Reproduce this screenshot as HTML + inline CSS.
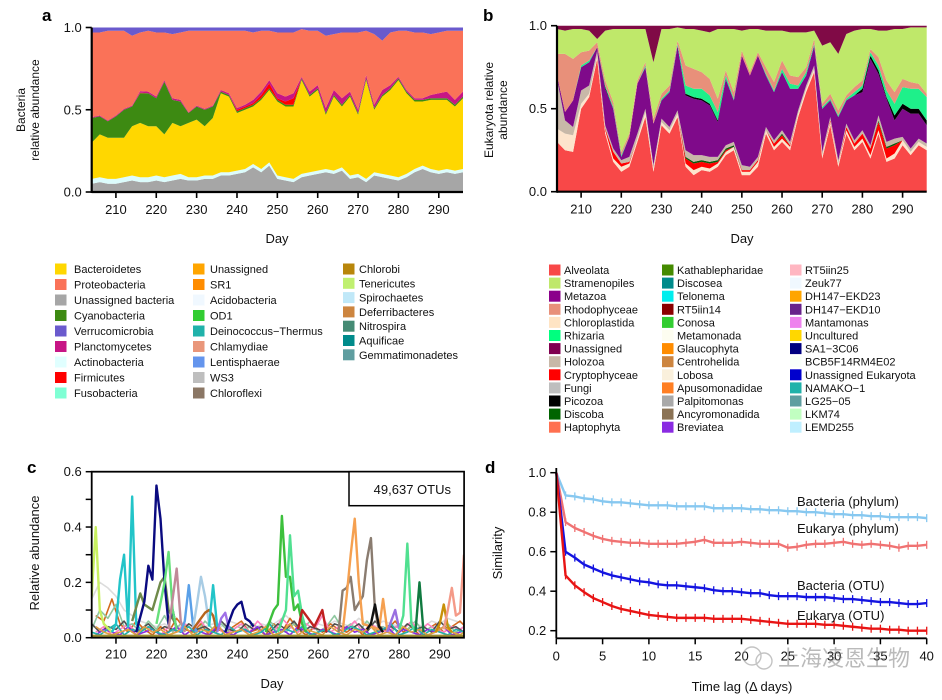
<!DOCTYPE html>
<html><head><meta charset="utf-8"><style>
html,body{margin:0;padding:0;background:#fff;width:942px;height:700px;overflow:hidden}
svg{display:block;font-family:"Liberation Sans",Arial,sans-serif}
</style></head><body>
<svg id="fig" width="942" height="700" viewBox="0 0 942 700">
<rect x="0" y="0" width="942" height="700" fill="#fff"/>
<text x="42" y="21" font-size="17" font-weight="bold">a</text>
<text x="483" y="21" font-size="17" font-weight="bold">b</text>
<text x="27" y="473" font-size="17" font-weight="bold">c</text>
<text x="485" y="473" font-size="17" font-weight="bold">d</text>
<g id="pa"></g>
<g id="pb"></g>
<g id="pc"></g>
<g id="pd"></g>
<g id="lega"></g>
<g id="legb"></g>
<g opacity="0.5">
<circle cx="752" cy="656" r="9" fill="none" stroke="#888" stroke-width="1.4"/>
<circle cx="764" cy="661" r="8" fill="none" stroke="#888" stroke-width="1.4"/>
<text x="778" y="666" font-size="22" fill="#777" font-family="'Liberation Sans','Noto Sans CJK SC',sans-serif">上海凌恩生物</text>
</g>
</svg>
<script>
const NS='http://www.w3.org/2000/svg';
const days=[204,206,208,210,212,214,216,218,220,222,224,226,228,230,232,234,236,238,240,242,244,246,248,250,252,254,256,258,260,262,264,266,268,270,272,274,276,278,280,282,284,286,288,290,292,294,296];
// Panel a data (layer thicknesses)
const aUnassigned=[.05,.06,.05,.05,.06,.07,.06,.06,.07,.06,.07,.08,.07,.07,.08,.08,.10,.10,.11,.12,.15,.12,.16,.08,.07,.06,.09,.10,.11,.12,.11,.13,.08,.09,.06,.10,.09,.08,.07,.09,.12,.14,.12,.11,.12,.11,.12];
const aActino=[.03,.03,.03,.03,.03,.03,.03,.03,.03,.03,.03,.03,.02,.02,.02,.02,.02,.02,.02,.02,.02,.02,.02,.02,.02,.02,.02,.02,.02,.02,.02,.02,.02,.02,.02,.02,.02,.02,.02,.02,.02,.02,.02,.02,.02,.02,.02];
const aBacteroidetes=[.22,.26,.25,.25,.24,.30,.33,.31,.30,.26,.32,.29,.33,.35,.30,.35,.48,.46,.35,.36,.35,.42,.44,.45,.43,.44,.57,.46,.49,.33,.45,.37,.48,.36,.60,.38,.47,.52,.59,.49,.41,.39,.42,.43,.42,.39,.43];
const aCyano=[.15,.11,.10,.13,.17,.12,.18,.20,.17,.32,.14,.15,.06,.08,.10,.07,.01,.01,.01,.01,.01,.01,.01,.01,.01,.01,.01,.01,.01,.01,.01,.01,.01,.01,.01,.01,.01,.01,.01,.01,.01,.01,.01,.01,.01,.01,.01];
const aFirmicutes=[0,0,0,0,0,0,.003,0,0,0,0,0,0,0,0,0,0,0,.01,.01,.01,.02,.03,.01,.02,.04,0,0,0,0,0,0,0,0,0,0,0,0,0,0,0,0,0,0,0,0,0];
const aPlancto=[.005,.005,.005,.005,.005,.005,.01,.01,.01,.01,.01,.01,.005,.005,.005,.005,.01,.01,.01,.01,.02,.02,.02,.03,.03,.03,.01,.02,.02,.03,.03,.04,.02,.02,.02,.02,.03,.02,.01,.01,.01,.01,.02,.03,.04,.03,.03];
const aVerruco=[.03,.03,.02,.02,.02,.05,.03,.02,.03,.03,.04,.03,.02,.02,.02,.02,.02,.02,.02,.02,.03,.02,.02,.03,.03,.03,.01,.02,.02,.05,.04,.03,.03,.03,.02,.04,.08,.03,.02,.02,.03,.03,.04,.03,.02,.02,.02];
// Panel b data
const bAlveolata=[.30,.25,.24,.50,.57,.80,.35,.18,.12,.15,.30,.45,.12,.40,.35,.45,.15,.10,.13,.12,.15,.22,.25,.10,.10,.15,.35,.25,.30,.25,.45,.60,.72,.20,.40,.15,.35,.25,.30,.20,.35,.18,.20,.28,.22,.28,.25];
const bChloro=[.08,.10,.10,.03,.02,.02,.02,.02,.03,.02,.02,.03,.02,.02,.02,.02,.02,.03,.02,.02,.02,.02,.02,.02,.02,.03,.02,.02,.02,.02,.02,.02,.02,.02,.02,.02,.02,.02,.02,.02,.02,.02,.03,.03,.02,.02,.02];
const bCrypto=[0,0,0,0,0,0,.01,.04,.02,.01,0,0,0,0,0,0,.03,.04,.03,.03,.01,.01,0,.01,.01,.01,0,.02,.02,.01,0,0,0,0,.01,0,.02,.02,.03,.04,.05,.06,.05,0,0,0,0];
const bDiscoba=[0,0,0,0,0,0,0,0,0,0,0,0,0,0,0,0,.01,.01,.01,.01,.01,.01,.01,0,0,0,0,0,.01,0,0,0,0,0,0,0,0,0,0,0,.01,.01,.01,0,0,0,0];
const bHolozoa=[.30,.08,.05,.08,.05,.03,.02,.02,.02,.03,.03,.02,.02,.02,.02,.02,.04,.04,.03,.03,.02,.02,.02,.03,.02,.02,.02,.02,.02,.02,.02,.02,.02,.02,.02,.02,.02,.02,.02,.02,.03,.03,.03,.02,.02,.02,.02];
const bMetazoa=[.02,.05,.16,.14,.14,.02,.22,.24,.02,.12,.30,.25,.25,.11,.21,.39,.33,.34,.33,.31,.21,.40,.25,.66,.55,.61,.31,.29,.35,.32,.13,.06,.12,.26,.10,.26,.14,.27,.23,.52,.25,.26,.11,.17,.21,.15,.11];
const bPicozoa=[0,0,0,0,0,0,.01,0,0,0,0,0,0,0,0,0,.01,.01,.01,.01,.01,0,0,0,0,0,0,0,0,0,0,0,0,0,0,0,0,0,.02,.02,.02,.01,.03,.03,.03,.03,.03];
const bRhizaria=[0,0,0,.01,.01,0,.01,.01,.01,0,0,.01,0,.01,.01,.01,.05,.05,.06,.05,.05,.02,.01,0,0,0,.01,.01,.02,.03,.02,.02,.01,.01,.01,.01,.01,.02,.02,.02,.03,.04,.07,.10,.12,.12,.14];
const bRhodo=[.13,.35,.25,.08,.06,.03,.03,.03,.02,.02,.02,.02,.03,.03,.03,.02,.12,.12,.10,.10,.08,.03,.04,.03,.02,.02,.04,.05,.05,.05,.05,.03,.03,.02,.03,.03,.02,.03,.03,.02,.05,.06,.07,.05,.04,.03,.02];
const bUnassigned=[.02,.03,.02,.02,.03,.08,.03,.02,.02,.02,.02,.02,.22,.02,.02,.01,.02,.02,.03,.04,.02,.02,.02,.03,.02,.02,.03,.03,.03,.04,.04,.04,.03,.12,.10,.17,.05,.03,.02,.02,.03,.03,.02,.02,.01,.01,.01];
// Panel c data: prominent OTUs as [day, value] pairs
const cPeaks=[
 {name:'otu-lime',color:'#c8f060',pts:[[204,0.15],[205,0.40],[206,0.10],[207,0.05],[209,0.02]]},
 {name:'otu-cyan',color:'#22c4c8',pts:[[209,0.02],[210,0.05],[211,0.21],[212,0.30],[213,0.04],[214,0.51],[215,0.05],[216,0.03]]},
 {name:'otu-olive',color:'#6f8a4a',pts:[[214,0.06],[216,0.16],[217,0.12],[219,0.10],[221,0.20],[222,0.22],[223,0.10],[225,0.04]]},
 {name:'otu-navy',color:'#0a0a80',pts:[[215,0.02],[217,0.13],[218,0.26],[219,0.21],[220,0.55],[221,0.43],[222,0.20],[223,0.05],[224,0.10],[225,0.03]]},
 {name:'otu-lightgreen',color:'#66e07a',pts:[[220,0.05],[222,0.20],[223,0.31],[224,0.10],[225,0.03]]},
 {name:'otu-mauve',color:'#c08a98',pts:[[223,0.03],[225,0.25],[226,0.06],[227,0.02]]},
 {name:'otu-blue',color:'#5aa0e8',pts:[[226,0.02],[227,0.06],[228,0.19],[229,0.05],[230,0.02]]},
 {name:'otu-steel',color:'#a8cce4',pts:[[229,0.03],[230,0.12],[231,0.22],[232,0.15],[233,0.05]]},
 {name:'otu-brown',color:'#b5651d',pts:[[229,0.03],[231,0.07],[232,0.09],[233,0.10],[234,0.08],[235,0.02]]},
 {name:'otu-cyan2',color:'#22c4c8',pts:[[233,0.04],[234,0.19],[235,0.04]]},
 {name:'otu-purple',color:'#a070e8',pts:[[235,0.02],[236,0.07],[237,0.09],[238,0.03]]},
 {name:'otu-navy2',color:'#0a0a80',pts:[[237,0.02],[239,0.10],[240,0.12],[241,0.13],[242,0.07],[243,0.06],[244,0.04]]},
 {name:'otu-green',color:'#3cc03c',pts:[[247,0.02],[249,0.10],[250,0.12],[251,0.44],[252,0.22],[253,0.22],[254,0.10],[255,0.12],[256,0.05],[257,0.02]]},
 {name:'otu-mint',color:'#50e090',pts:[[250,0.02],[252,0.10],[253,0.37],[254,0.15],[255,0.17],[256,0.08],[257,0.03]]},
 {name:'otu-darkred',color:'#c02020',pts:[[255,0.03],[256,0.10],[257,0.08],[259,0.04],[261,0.10],[262,0.02]]},
 {name:'otu-taupe',color:'#8a7c70',pts:[[265,0.02],[266,0.17],[267,0.18],[268,0.22],[269,0.10],[271,0.15],[272,0.28],[273,0.36],[274,0.10],[275,0.03]]},
 {name:'otu-orange',color:'#f5a050',pts:[[266,0.02],[267,0.15],[268,0.30],[269,0.43],[270,0.20],[271,0.05],[275,0.03],[276,0.14],[277,0.03]]},
 {name:'otu-black',color:'#111111',pts:[[272,0.03],[273,0.05],[274,0.12],[275,0.04],[276,0.02]]},
 {name:'otu-lavender',color:'#9a70e0',pts:[[277,0.02],[279,0.10],[280,0.03]]},
 {name:'otu-mint2',color:'#50e090',pts:[[280,0.03],[281,0.08],[282,0.34],[283,0.05],[284,0.02]]},
 {name:'otu-darkgreen',color:'#107a40',pts:[[284,0.02],[285,0.20],[286,0.02]]},
 {name:'otu-gold',color:'#c8900a',pts:[[289,0.02],[290,0.05],[291,0.12],[292,0.04],[293,0.02]]},
 {name:'otu-salmon',color:'#f49a88',pts:[[291,0.03],[292,0.10],[293,0.18],[294,0.08],[295,0.09],[296,0.30]]}
];
const cBg1=[.14,.20,.18,.15,.10,.08,.06,.05,.04,.05,.03,.04,.05,.03,.04,.05,.04,.06,.05,.04,.03,.05,.04,.06,.08,.05,.04,.03,.05,.04,.06,.05,.04,.07,.05,.04,.06,.05,.04,.03,.05,.04,.06,.05,.07,.06,.05];
const cBg2=[.08,.06,.14,.05,.02,.06,.03,.01,.04,.02,.07,.03,.02,.05,.01,.03,.02,.04,.06,.02,.03,.01,.05,.02,.07,.03,.01,.04,.02,.05,.03,.02,.04,.01,.05,.02,.03,.06,.02,.04,.01,.03,.05,.02,.04,.06,.03];
const cBg3=[.03,.10,.07,.12,.04,.05,.02,.06,.03,.08,.02,.05,.04,.02,.06,.03,.05,.02,.04,.03,.05,.02,.06,.03,.02,.05,.03,.06,.02,.04,.08,.03,.05,.02,.06,.03,.04,.02,.05,.03,.06,.02,.04,.03,.05,.02,.04];
const cBg4=[.02,.04,.01,.03,.05,.02,.04,.03,.01,.04,.02,.05,.03,.06,.02,.04,.01,.03,.05,.02,.06,.03,.02,.07,.04,.02,.05,.03,.08,.02,.04,.03,.06,.02,.05,.03,.02,.04,.03,.06,.02,.05,.03,.02,.04,.03,.05];
const cBg5=[.05,.02,.04,.03,.06,.02,.03,.05,.02,.04,.03,.02,.05,.03,.04,.02,.06,.03,.02,.05,.03,.04,.02,.05,.03,.06,.02,.04,.03,.02,.05,.04,.03,.05,.02,.06,.03,.04,.02,.05,.03,.04,.02,.06,.03,.04,.02];
const cBg6=[.01,.03,.02,.01,.04,.01,.02,.03,.01,.02,.04,.01,.03,.02,.01,.04,.02,.01,.03,.02,.04,.01,.02,.03,.01,.04,.02,.01,.03,.02,.01,.04,.02,.03,.01,.02,.04,.01,.03,.02,.01,.03,.02,.04,.01,.02,.03];
const cBg7=[.02,.01,.03,.05,.01,.03,.02,.04,.02,.01,.03,.02,.04,.01,.03,.02,.01,.04,.02,.03,.01,.02,.05,.01,.03,.02,.04,.01,.02,.03,.01,.02,.04,.03,.01,.02,.03,.05,.01,.02,.04,.01,.03,.02,.01,.03,.02];
const cBg8=[.04,.02,.01,.02,.03,.01,.04,.02,.03,.01,.02,.04,.01,.03,.02,.05,.01,.02,.03,.01,.02,.04,.01,.02,.05,.01,.03,.02,.01,.04,.02,.01,.03,.02,.04,.01,.02,.01,.04,.02,.03,.01,.02,.04,.02,.01,.03];
const cBgColors=['#dcdcdc','#d2691e','#90c8a0','#ff80c0','#505050','#8a2be2','#20b2aa','#e0a040'];
// Panel d data
const lags=[0,1,2,3,4,5,6,7,8,9,10,11,12,13,14,15,16,17,18,19,20,21,22,23,24,25,26,27,28,29,30,31,32,33,34,35,36,37,38,39,40];
const dBactPhylum=[1.0,.885,.88,.87,.865,.855,.85,.85,.845,.84,.835,.835,.835,.83,.83,.83,.83,.82,.82,.82,.82,.815,.815,.81,.81,.805,.805,.80,.80,.795,.79,.79,.785,.785,.78,.78,.775,.775,.775,.775,.77];
const dEukPhylum=[1.0,.75,.72,.70,.68,.665,.655,.65,.645,.645,.64,.64,.64,.64,.645,.65,.66,.645,.645,.645,.65,.645,.64,.64,.64,.62,.625,.635,.64,.64,.645,.65,.64,.635,.64,.635,.63,.62,.63,.63,.635];
const dBactOTU=[1.0,.60,.57,.535,.515,.495,.48,.47,.46,.45,.445,.435,.43,.43,.425,.42,.415,.405,.40,.40,.395,.39,.39,.38,.375,.375,.375,.37,.37,.37,.365,.36,.36,.355,.35,.345,.345,.34,.335,.335,.34];
const dEukOTU=[1.0,.48,.43,.395,.365,.345,.325,.31,.30,.29,.28,.275,.27,.265,.265,.265,.265,.26,.26,.26,.26,.255,.25,.245,.24,.235,.235,.235,.235,.23,.23,.225,.22,.215,.21,.21,.205,.205,.20,.20,.20];
const dayTicks=[210,220,230,240,250,260,270,280,290];
const abYTicks=[0,0.5,1.0];
const abYLabels=['0.0','0.5','1.0'];
const cYTicks=[0,0.1,0.2,0.3,0.4,0.5,0.6];
const cYLabels=['0.0','','0.2','','0.4','','0.6'];
const dXTicks=[0,5,10,15,20,25,30,35,40];
const dYTicks=[0.2,0.4,0.6,0.8,1.0];
const dYLabels=['0.2','0.4','0.6','0.8','1.0'];
// Legends
const legANames=[['Bacteroidetes','Proteobacteria','Unassigned bacteria','Cyanobacteria','Verrucomicrobia','Planctomycetes','Actinobacteria','Firmicutes','Fusobacteria'],['Unassigned','SR1','Acidobacteria','OD1','Deinococcus\u2212Thermus','Chlamydiae','Lentisphaerae','WS3','Chloroflexi'],['Chlorobi','Tenericutes','Spirochaetes','Deferribacteres','Nitrospira','Aquificae','Gemmatimonadetes']];
const legAColors=[['#ffd700','#fa7258','#a6a6a6','#3d8a12','#6a5acd','#c71585','#e0ffff','#ff0000','#7fffd4'],['#ffa500','#ff8c00','#f0f8ff','#32cd32','#20b2aa','#e9967a','#6495ed','#bebebe','#8b7765'],['#b8860b','#c0f070','#c0e8f8','#cd853f','#458b74','#008b8b','#5f9ea0']];
const legBNames=[['Alveolata','Stramenopiles','Metazoa','Rhodophyceae','Chloroplastida','Rhizaria','Unassigned','Holozoa','Cryptophyceae','Fungi','Picozoa','Discoba','Haptophyta'],['Kathablepharidae','Discosea','Telonema','RT5iin14','Conosa','Metamonada','Glaucophyta','Centrohelida','Lobosa','Apusomonadidae','Palpitomonas','Ancyromonadida','Breviatea'],['RT5iin25','Zeuk77','DH147\u2212EKD23','DH147\u2212EKD10','Mantamonas','Uncultured','SA1\u22123C06','BCB5F14RM4E02','Unassigned Eukaryota','NAMAKO\u22121','LG25\u221205','LKM74','LEMD255']];
const legBColors=[['#f84848','#bfe86a','#8b008b','#e8907a','#ffe4c4','#00ff7f','#800050','#c8b8a8','#ff0000','#bebebe','#000000','#006400','#ff7050'],['#458b00','#008b8b','#00eeee','#8b0000','#32cd32','#fdfdf0','#ff8c00','#cd853f','#faf0dc','#ff7f24','#a9a9a9','#8b7355','#8a2be2'],['#ffb6c1','#f0f8ff','#ffa500','#68228b','#ee82ee','#ffd700','#000080','#f8fff8','#0000cd','#20b2aa','#5f9ea0','#c1ffc1','#bfefff']];

function mk(tag,attrs,parent){const e=document.createElementNS(NS,tag);for(const k in attrs)e.setAttribute(k,attrs[k]);parent.appendChild(e);return e;}
function txt(parent,x,y,s,size,anchor,extra){const e=mk('text',Object.assign({x:x,y:y,'font-size':size,'text-anchor':anchor||'start',fill:'#111'},extra||{}),parent);e.textContent=s;return e;}

function stackPanel(g,xf,yf,layers,remainder,top,namePrefix){
  let cum=days.map(()=>0);
  const draw=(lo,hi,color,nm)=>{
    let d='M'+days.map((dd,i)=>xf(dd).toFixed(2)+','+yf(hi[i]).toFixed(2)).join('L');
    for(let i=days.length-1;i>=0;i--)d+='L'+xf(days[i]).toFixed(2)+','+yf(lo[i]).toFixed(2);
    const p=mk('path',{d:d+'Z',fill:color,stroke:'none'},g);
    
    
  };
  layers.forEach(L=>{const hi=cum.map((c,i)=>Math.min(1,c+L.vals[i]));draw(cum,hi,L.color,L.name);cum=hi;});
  const topLo=top.vals.map(v=>1-v);
  draw(cum,topLo.map((t,i)=>Math.max(t,cum[i])),remainder.color,remainder.name);
  draw(topLo.map((t,i)=>Math.max(t,cum[i])),days.map(()=>1),top.color,top.name);
}
function axesDay(g,xf,x0,x1,y0,y1,yTicks,yLabels,yf,prefix){
  const ax=mk('line',{x1:x0,y1:y1,x2:x1,y2:y1,stroke:'#000','stroke-width':2.2},g);
  
  
  const ay=mk('line',{x1:x0,y1:y0,x2:x0,y2:y1+1,stroke:'#000','stroke-width':2.2},g);
  
  
  dayTicks.forEach(t=>{const x=xf(t);mk('line',{x1:x,y1:y1,x2:x,y2:y1+6,stroke:'#000','stroke-width':1.6},g);
    const l=txt(g,x,y1+22,String(t),13,'middle');
    
    });
  yTicks.forEach((t,i)=>{const y=yf(t);mk('line',{x1:x0-6,y1:y,x2:x0,y2:y,stroke:'#000','stroke-width':1.6},g);
    if(yLabels[i]){const l=txt(g,x0-10,y+4.5,yLabels[i],13,'end');
    
    }});
}
// Panel a
(function(){
  const g=document.getElementById('pa');
  const x0=91.7,x1=463,yb=192,yt=27.5;
  const xf=d=>x0+(d-204)*(x1-x0)/92, yf=v=>yb-v*(yb-yt);
  stackPanel(g,xf,yf,[
    {name:'unassigned-bacteria',vals:aUnassigned,color:'#a6a6a6'},
    {name:'actinobacteria',vals:aActino,color:'#dcfcfc'},
    {name:'bacteroidetes',vals:aBacteroidetes,color:'#ffd700'},
    {name:'cyanobacteria',vals:aCyano,color:'#3d8a12'},
    {name:'firmicutes',vals:aFirmicutes,color:'#ff0000'},
    {name:'planctomycetes',vals:aPlancto,color:'#c71585'}],
    {name:'proteobacteria',color:'#fa7258'},{name:'verrucomicrobia',vals:aVerruco,color:'#6a5acd'},'bacteria');
  axesDay(g,xf,x0,x1,yt,yb,abYTicks,abYLabels,yf,'panel-a');
  const xl=txt(g,277,243,'Day',13,'middle');
  
  
  const yl=txt(g,0,0,'Bacteria',12,'middle',{transform:'translate(25,110) rotate(-90)'});
  
  
  const yl2=txt(g,0,0,'relative abundance',12,'middle',{transform:'translate(39,110) rotate(-90)'});
  
  
})();
// Panel b
(function(){
  const g=document.getElementById('pb');
  const x0=557,x1=926.7,yb=191.7,yt=25.7;
  const xf=d=>x0+(d-204)*(x1-x0)/92, yf=v=>yb-v*(yb-yt);
  stackPanel(g,xf,yf,[
    {name:'alveolata',vals:bAlveolata,color:'#f84848'},
    {name:'chloroplastida',vals:bChloro,color:'#fde4cc'},
    {name:'cryptophyceae',vals:bCrypto,color:'#ff0000'},
    {name:'discoba',vals:bDiscoba,color:'#0a5a0a'},
    {name:'holozoa',vals:bHolozoa,color:'#c8b8a8'},
    {name:'metazoa',vals:bMetazoa,color:'#7f0a8a'},
    {name:'picozoa',vals:bPicozoa,color:'#000000'},
    {name:'rhizaria',vals:bRhizaria,color:'#1ef08a'},
    {name:'rhodophyceae',vals:bRhodo,color:'#e8907a'}],
    {name:'stramenopiles',color:'#bfe86a'},{name:'unassigned',vals:bUnassigned,color:'#800a46'},'eukaryota');
  axesDay(g,xf,x0,x1,yt,yb,abYTicks,abYLabels,yf,'panel-b');
  const xl=txt(g,742,243,'Day',13,'middle');
  
  
  const yl=txt(g,0,0,'Eukaryota relative',12,'middle',{transform:'translate(493,110) rotate(-90)'});
  
  
  const yl2=txt(g,0,0,'abundance',12,'middle',{transform:'translate(507,110) rotate(-90)'});
  
  
})();
// Panel c
(function(){
  const g=document.getElementById('pc');
  const x0=91.7,x1=464,yb=637.7,yt=471.7;
  const xf=d=>x0+(d-204)*(x1-x0)/92, yf=v=>yb-v/0.6*(yb-yt);
  const cl=mk('clipPath',{id:'clipc'},g);mk('rect',{x:x0,y:yt,width:x1-x0,height:yb-yt},cl);
  const pg=mk('g',{'clip-path':'url(#clipc)'},g);
  [cBg1,cBg2,cBg3,cBg4,cBg5,cBg6,cBg7,cBg8].forEach((arr,k)=>{
    const p=mk('polyline',{points:days.map((d,i)=>xf(d+(k%2))+','+yf(arr[i])).join(' '),fill:'none',stroke:cBgColors[k],'stroke-width':1.6,'stroke-linejoin':'round'},pg);
    
    
  });
  cPeaks.forEach(s=>{
    const p=mk('polyline',{points:s.pts.map(q=>xf(q[0])+','+yf(q[1])).join(' '),fill:'none',stroke:s.color,'stroke-width':2.4,'stroke-linejoin':'round'},pg);
    
    
  });
  const base=mk('line',{x1:x0,y1:yf(0.004),x2:x1,y2:yf(0.004),stroke:'#9a8a30','stroke-width':4},pg);
  
  
  const fr=mk('rect',{x:x0,y:yt,width:x1-x0,height:yb-yt,fill:'none',stroke:'#000','stroke-width':1.8},g);
  
  
  dayTicks.forEach(t=>{const x=xf(t);mk('line',{x1:x,y1:yb,x2:x,y2:yb+6,stroke:'#000','stroke-width':1.5},g);
    const l=txt(g,x,yb+21,String(t),13,'middle');
    
    });
  cYTicks.forEach((t,i)=>{const y=yf(t);mk('line',{x1:x0-6,y1:y,x2:x0,y2:y,stroke:'#000','stroke-width':1.5},g);
    if(cYLabels[i]){const l=txt(g,x0-10,y+4.5,cYLabels[i],13,'end');
    
    }});
  const bx=mk('rect',{x:349,y:471.7,width:115,height:34,fill:'#fff',stroke:'#000','stroke-width':1.5},g);
  
  
  const bt=txt(g,451,494,'49,637 OTUs',13,'end');
  
  
  const xl=txt(g,272,688,'Day',13,'middle');
  
  
  const yl=txt(g,0,0,'Relative abundance',13,'middle',{transform:'translate(39,553) rotate(-90)'});
  
  
})();
// Panel d
(function(){
  const g=document.getElementById('pd');
  const x0=556.3,x1=926.7,yb=638.3;
  const xf=t=>x0+t*(x1-x0)/40, yf=v=>630.7-(v-0.2)*197.5;
  const ser=[{n:'bacteria-phylum',v:dBactPhylum,c:'#87c8f0',lab:'Bacteria (phylum)',ly:506},
    {n:'eukarya-phylum',v:dEukPhylum,c:'#f07272',lab:'Eukarya (phylum)',ly:533},
    {n:'bacteria-otu',v:dBactOTU,c:'#1414e0',lab:'Bacteria (OTU)',ly:590},
    {n:'eukarya-otu',v:dEukOTU,c:'#e81414',lab:'Eukarya (OTU)',ly:620}];
  ser.forEach(s=>{
    const p=mk('polyline',{points:lags.map((t,i)=>xf(t)+','+yf(s.v[i])).join(' '),fill:'none',stroke:s.c,'stroke-width':2.4,'stroke-linejoin':'round'},g);
    
    
    lags.forEach((t,i)=>{const m=mk('line',{x1:xf(t),y1:yf(s.v[i])-4,x2:xf(t),y2:yf(s.v[i])+4,stroke:s.c,'stroke-width':1.3},g);
      
      });
    const l=txt(g,797,s.ly,s.lab,13,'start');
    
    
  });
  const ax=mk('line',{x1:x0,y1:yb,x2:x1,y2:yb,stroke:'#000','stroke-width':1.8},g);
  
  
  const ay=mk('line',{x1:x0,y1:468,x2:x0,y2:yb,stroke:'#000','stroke-width':1.8},g);
  
  
  dXTicks.forEach(t=>{const x=xf(t);mk('line',{x1:x,y1:yb,x2:x,y2:yb+6,stroke:'#000','stroke-width':1.5},g);
    const l=txt(g,x,yb+22,String(t),13,'middle');
    
    });
  dYTicks.forEach((t,i)=>{const y=yf(t);mk('line',{x1:x0-6,y1:y,x2:x0,y2:y,stroke:'#000','stroke-width':1.5},g);
    const l=txt(g,x0-10,y+4.5,dYLabels[i],13,'end');
    
    });
  const xl=txt(g,742,691,'Time lag (\u0394 days)',13,'middle');
  
  
  const yl=txt(g,0,0,'Similarity',13,'middle',{transform:'translate(502,553) rotate(-90)'});
  
  
})();
// Legends
function legend(g,names,colors,cols,y0,steps,prefix){
  names.forEach((col,c)=>col.forEach((nm,r)=>{
    const y=y0+r*steps[c];
    const sw=mk('rect',{x:cols[c][0],y:y-5.5,width:11.5,height:11,fill:colors[c][r]},g);
    
    
    const t=txt(g,cols[c][1],y+4,nm,11,'start');
    
    
  }));
}
legend(document.getElementById('lega'),legANames,legAColors,[[55,74],[193,210],[343,359]],269,[15.5,15.5,14.3],'legend-a-entry');
legend(document.getElementById('legb'),legBNames,legBColors,[[549,564],[662,677],[790,805]],270,[13.1,13.1,13.1],'legend-b-entry');
</script>
</body></html>
